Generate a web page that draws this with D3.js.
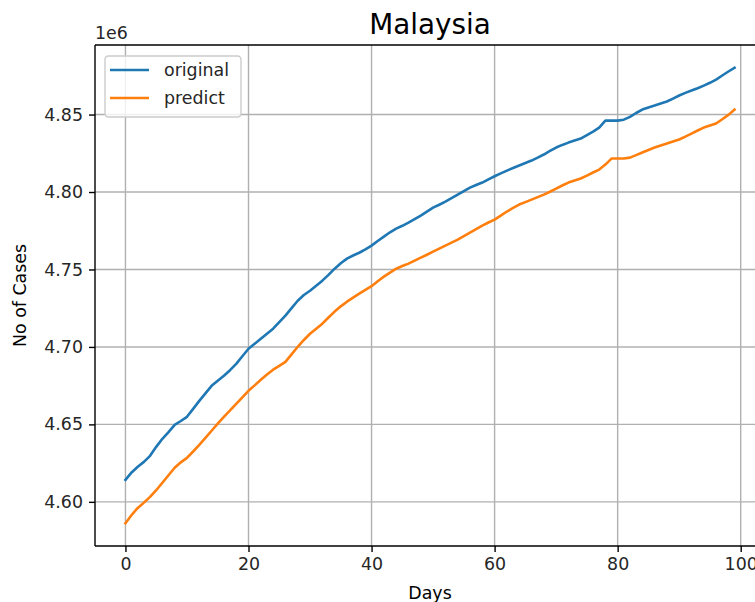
<!DOCTYPE html>
<html>
<head>
<meta charset="utf-8">
<script src="https://cdn.jsdelivr.net/npm/d3@7"></script>
<style>
  html, body { margin: 0; padding: 0; background: #fff; }
  svg { display: block; font-family: "DejaVu Sans", sans-serif; }
</style>
</head>
<body>
<svg id="chart" width="755" height="602"></svg>
<script>
// ---- data (values in units of cases) ----
const original = [
  4.6142,4.6190,4.6226,4.6258,4.6297,4.6355,4.6407,4.6450,4.6497,4.6522,
  4.6549,4.6600,4.6652,4.6700,4.6749,4.6782,4.6814,4.6850,4.6891,4.6940,
  4.6988,4.7020,4.7053,4.7085,4.7118,4.7160,4.7202,4.7250,4.7298,4.7335,
  4.7363,4.7395,4.7428,4.7465,4.7505,4.7540,4.7570,4.7590,4.7608,4.7630,
  4.7654,4.7684,4.7712,4.7740,4.7764,4.7782,4.7802,4.7825,4.7848,4.7873,
  4.7899,4.7918,4.7938,4.7960,4.7983,4.8006,4.8028,4.8045,4.8061,4.8082,
  4.8102,4.8120,4.8138,4.8155,4.8171,4.8187,4.8203,4.8222,4.8242,4.8265,
  4.8287,4.8304,4.8319,4.8332,4.8345,4.8368,4.8390,4.8416,4.8461,4.8461,
  4.8461,4.8467,4.8485,4.8510,4.8532,4.8546,4.8558,4.8571,4.8584,4.8603,
  4.8623,4.8640,4.8655,4.8670,4.8687,4.8705,4.8726,4.8752,4.8778,4.8802
].map(v => v * 1e6);

const predict = [
  4.5862,4.5915,4.5961,4.5995,4.6032,4.6075,4.6123,4.6172,4.6220,4.6255,
  4.6284,4.6325,4.6368,4.6413,4.6459,4.6505,4.6549,4.6590,4.6633,4.6675,
  4.6717,4.6752,4.6788,4.6822,4.6853,4.6878,4.6904,4.6952,4.7001,4.7045,
  4.7085,4.7118,4.7150,4.7190,4.7228,4.7262,4.7292,4.7318,4.7344,4.7368,
  4.7392,4.7424,4.7454,4.7480,4.7505,4.7522,4.7538,4.7557,4.7576,4.7595,
  4.7615,4.7635,4.7654,4.7673,4.7693,4.7715,4.7738,4.7760,4.7783,4.7803,
  4.7822,4.7848,4.7874,4.7897,4.7919,4.7935,4.7951,4.7967,4.7983,4.8002,
  4.8022,4.8042,4.8061,4.8074,4.8087,4.8106,4.8126,4.8145,4.8177,4.8216,
  4.8216,4.8216,4.8222,4.8238,4.8255,4.8271,4.8287,4.8300,4.8313,4.8326,
  4.8339,4.8358,4.8377,4.8397,4.8416,4.8429,4.8442,4.8470,4.8498,4.8532
].map(v => v * 1e6);

const days = d3.range(original.length);
const xTicks = [0, 20, 40, 60, 80, 100];
const yTicks = [4.60e6, 4.65e6, 4.70e6, 4.75e6, 4.80e6, 4.85e6];
const seriesNames = ["original", "predict"];
const colors = ["#1f77b4", "#ff7f0e"];

// ---- layout ----
const svg = d3.select("#chart");
const L = 95, T = 45, R = 765, B = 546;
const fs = 17.4;

const allVals = original.concat(predict);
const ymin = d3.min(allVals), ymax = d3.max(allVals);
const ypad = (ymax - ymin) * 0.05;
const xpad = (days.length - 1) * 0.05;

const x = d3.scaleLinear().domain([-xpad, days.length - 1 + xpad]).range([L, R]);
const y = d3.scaleLinear().domain([ymin - ypad, ymax + ypad]).range([B, T]);

// grid
const grid = svg.append("g");
grid.selectAll("line.gx").data(xTicks).enter().append("line")
  .attr("x1", d => x(d)).attr("x2", d => x(d)).attr("y1", T).attr("y2", B)
  .attr("stroke", "#b0b0b0").attr("stroke-width", 1.4);
grid.selectAll("line.gy").data(yTicks).enter().append("line")
  .attr("x1", L).attr("x2", R).attr("y1", d => y(d)).attr("y2", d => y(d))
  .attr("stroke", "#b0b0b0").attr("stroke-width", 1.4);

// lines
const line = d3.line().x((d, i) => x(i)).y(d => y(d));
[original, predict].forEach((s, k) => {
  svg.append("path").datum(s)
    .attr("d", line).attr("fill", "none")
    .attr("stroke", colors[k]).attr("stroke-width", 2.6)
    .attr("stroke-linejoin", "round").attr("stroke-linecap", "square");
});

// axes
const xAxis = d3.axisBottom(x).tickValues(xTicks).tickSize(6).tickPadding(6).tickFormat(d3.format("d"));
const yAxis = d3.axisLeft(y).tickValues(yTicks).tickSize(6).tickPadding(6).tickFormat(d => (d / 1e6).toFixed(2));

const gx = svg.append("g").attr("transform", `translate(0,${B})`).call(xAxis);
const gy = svg.append("g").attr("transform", `translate(${L},0)`).call(yAxis);
[gx, gy].forEach(g => {
  g.select(".domain").remove();
  g.selectAll(".tick line").attr("stroke", "#000").attr("stroke-width", 1.4);
  g.selectAll(".tick text").attr("fill", "#262626").style("font-size", fs + "px")
    .style("font-family", "DejaVu Sans, sans-serif");
});

// spines
svg.append("line").attr("x1", L).attr("x2", L).attr("y1", T).attr("y2", B)
  .attr("stroke", "#000").attr("stroke-width", 1.4);
svg.append("line").attr("x1", L).attr("x2", R).attr("y1", B).attr("y2", B)
  .attr("stroke", "#000").attr("stroke-width", 1.4);
svg.append("line").attr("x1", L).attr("x2", R).attr("y1", T).attr("y2", T)
  .attr("stroke", "#000").attr("stroke-width", 1.4);
svg.append("line").attr("x1", R).attr("x2", R).attr("y1", T).attr("y2", B)
  .attr("stroke", "#000").attr("stroke-width", 1.4);

// offset text
svg.append("text").attr("x", L).attr("y", 39).text("1e6")
  .attr("fill", "#262626").style("font-size", fs + "px");

// title
svg.append("text").attr("x", (L + R) / 2).attr("y", 34).attr("text-anchor", "middle")
  .text("Malaysia").attr("fill", "#000").style("font-size", "27.8px");

// axis labels
svg.append("text").attr("x", (L + R) / 2).attr("y", 599).attr("text-anchor", "middle")
  .text("Days").attr("fill", "#000").style("font-size", fs + "px");
svg.append("text").attr("transform", `translate(26,${(T + B) / 2}) rotate(-90)`)
  .attr("text-anchor", "middle").text("No of Cases").attr("fill", "#000").style("font-size", fs + "px");

// legend
const lg = svg.append("g");
lg.append("rect").attr("x", 105).attr("y", 56).attr("width", 136).attr("height", 61)
  .attr("rx", 3.5).attr("fill", "#fff").attr("fill-opacity", 0.8)
  .attr("stroke", "#cccccc").attr("stroke-width", 1.4);
seriesNames.forEach((n, k) => {
  const cy = 70 + k * 28;
  lg.append("line").attr("x1", 110).attr("x2", 149).attr("y1", cy).attr("y2", cy)
    .attr("stroke", colors[k]).attr("stroke-width", 2.6);
  lg.append("text").attr("x", 164).attr("y", cy).attr("dy", "0.35em").text(n)
    .attr("fill", "#262626").style("font-size", fs + "px");
});
</script>
</body>
</html>
